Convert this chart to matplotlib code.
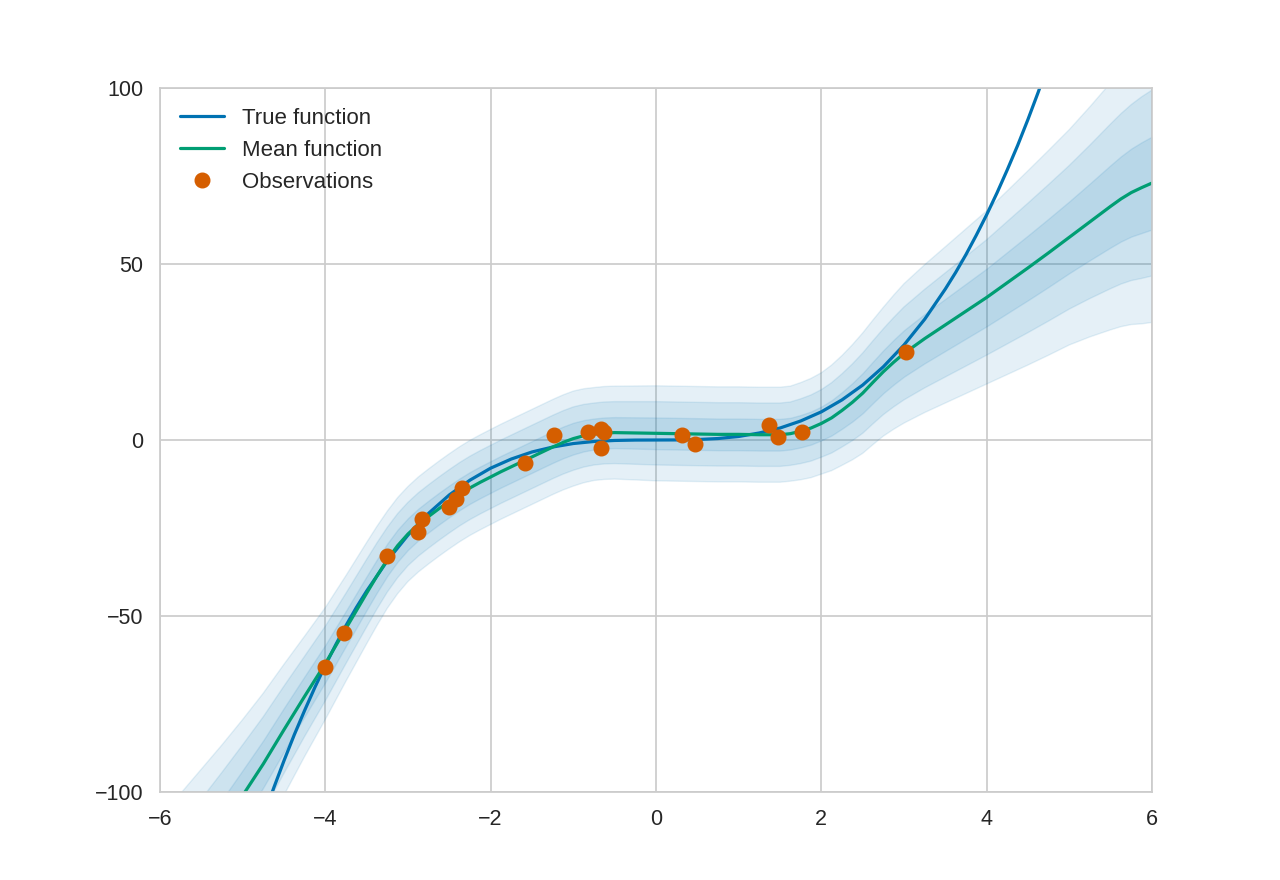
import numpy as np
import matplotlib
matplotlib.use("Agg")
import matplotlib.pyplot as plt
import seaborn as sns

# colores de la paleta "colorblind" clasica
AZUL = "#0072B2"
VERDE = "#009E73"
NARANJA = "#D55E00"

# funcion verdadera
x_true = [-4.75, -4.625, -4.5, -4.375, -4.25, -4.125, -4.0, -3.875, -3.75, -3.625,
          -3.5, -3.25, -3.0, -2.75, -2.5, -2.25, -2.0, -1.75, -1.5, -1.25,
          -1.0, -0.75, -0.5, -0.25, 0.0, 0.25, 0.5, 0.75, 1.0, 1.25,
          1.5, 1.75, 2.0, 2.25, 2.5, 2.75, 3.0, 3.25, 3.5, 3.625,
          3.75, 3.875, 4.0, 4.125, 4.25, 4.375, 4.5, 4.625, 4.75]
y_true = [-107.2, -98.9, -91.1, -83.7, -76.8, -70.2, -64.0, -58.2, -52.7, -47.6,
          -42.9, -34.3, -27.0, -20.8, -15.6, -11.4, -8.0, -5.4, -3.4, -2.0,
          -1.0, -0.42, -0.13, -0.02, 0.0, 0.02, 0.13, 0.42, 1.0, 2.0,
          3.4, 5.4, 8.0, 11.4, 15.6, 20.8, 27.0, 34.3, 42.9, 47.6,
          52.7, 58.2, 64.0, 70.2, 76.8, 83.7, 91.1, 98.9, 107.2]

# media posterior y desviacion estandar
x_pred = [-6.0, -5.75, -5.5, -5.25, -5.0, -4.75, -4.5, -4.25, -4.0, -3.75,
          -3.625, -3.5, -3.375, -3.25, -3.125, -3.0, -2.875, -2.75, -2.625, -2.5,
          -2.375, -2.25, -2.125, -2.0, -1.875, -1.75, -1.625, -1.5, -1.375, -1.25,
          -1.125, -1.0, -0.875, -0.75, -0.625, -0.5, -0.25, 0.0, 0.25, 0.5,
          0.75, 1.0, 1.25, 1.375, 1.5, 1.625, 1.75, 1.875, 2.0, 2.125,
          2.25, 2.375, 2.5, 2.625, 2.75, 2.875, 3.0, 3.25, 3.5, 3.75,
          4.0, 4.25, 4.5, 4.75, 5.0, 5.25, 5.5, 5.625, 5.75, 5.875,
          6.0]
media = [-137.0, -128.0, -119.0, -110.0, -101.0, -92.0, -82.3, -72.8, -63.5, -53.5,
         -48.5, -43.5, -38.6, -34.0, -30.0, -26.7, -24.0, -21.7, -19.5, -17.4,
         -15.4, -13.6, -12.0, -10.5, -9.0, -7.6, -6.2, -4.8, -3.4, -2.0,
         -0.7, 0.4, 1.2, 1.7, 2.0, 2.1, 2.0, 1.9, 1.8, 1.7,
         1.6, 1.6, 1.5, 1.5, 1.5, 1.8, 2.5, 3.4, 4.7, 6.3,
         8.4, 10.7, 13.3, 16.4, 19.4, 22.1, 24.6, 28.8, 32.7, 36.6,
         40.5, 44.7, 48.9, 53.2, 57.6, 62.0, 66.4, 68.5, 70.3, 71.7,
         73.0]
desv = [10.0, 9.2, 8.5, 7.8, 7.2, 6.7, 6.2, 5.7, 5.3, 5.0,
        4.9, 4.8, 4.7, 4.6, 4.55, 4.5, 4.5, 4.5, 4.5, 4.5,
        4.5, 4.5, 4.5, 4.5, 4.5, 4.5, 4.5, 4.5, 4.5, 4.5,
        4.5, 4.5, 4.45, 4.4, 4.4, 4.4, 4.45, 4.5, 4.5, 4.5,
        4.5, 4.5, 4.5, 4.5, 4.5, 4.5, 4.6, 4.7, 4.8, 5.0,
        5.2, 5.45, 5.7, 5.9, 6.1, 6.35, 6.6, 7.0, 7.4, 7.8,
        8.2, 8.7, 9.2, 9.7, 10.2, 10.9, 11.7, 12.1, 12.5, 12.9,
        13.2]

# observaciones
x_obs = [-4.00, -3.78, -3.26, -2.88, -2.83, -2.50, -2.42, -2.35, -1.585, -1.23,
         -0.82, -0.67, -0.63, -0.66, 0.32, 0.475, 1.37, 1.48, 1.77, 3.03]
y_obs = [-64.6, -54.9, -33.0, -26.0, -22.5, -18.9, -16.9, -13.5, -6.6, 1.4,
         2.2, 3.1, 2.3, -2.4, 1.4, -1.1, 4.3, 0.9, 2.2, 24.9]

sns.set_style("whitegrid")
plt.rcParams['font.family'] = ['Liberation Sans', 'DejaVu Sans']
plt.rcParams['axes.edgecolor'] = '.8'
plt.rcParams['grid.color'] = '.8'
plt.rcParams['text.color'] = '.15'
plt.rcParams['xtick.color'] = '.15'
plt.rcParams['ytick.color'] = '.15'

fig, ax = plt.subplots(figsize=(12.8, 8.8), dpi=100)
fig.subplots_adjust(left=0.125, right=0.9, bottom=0.1, top=0.9)

xp = np.array(x_pred)
mu = np.array(media)
sd = np.array(desv)

ax.plot(x_true, y_true, color=AZUL, lw=2.3, label='True function')
ax.plot(xp, mu, color=VERDE, lw=2.3, label='Mean function')
for k in (1, 2, 3):
    ax.fill_between(xp, mu - k * sd, mu + k * sd, color=AZUL, alpha=0.1)
ax.plot(x_obs, y_obs, 'o', color=NARANJA, ms=10.5, label='Observations')

ax.set_xlim(-6, 6)
ax.set_ylim(-100, 100)
ax.set_xticks([-6, -4, -2, 0, 2, 4, 6])
ax.set_yticks([-100, -50, 0, 50, 100])
ax.tick_params(labelsize=15.5, length=0, pad=12)
for s in ax.spines.values():
    s.set_color('.8')
    s.set_linewidth(1.25)
ax.grid(True, lw=1.25)

ax.legend(loc='upper left', frameon=False, fontsize=16)

fig.savefig('out.png', dpi=100)
